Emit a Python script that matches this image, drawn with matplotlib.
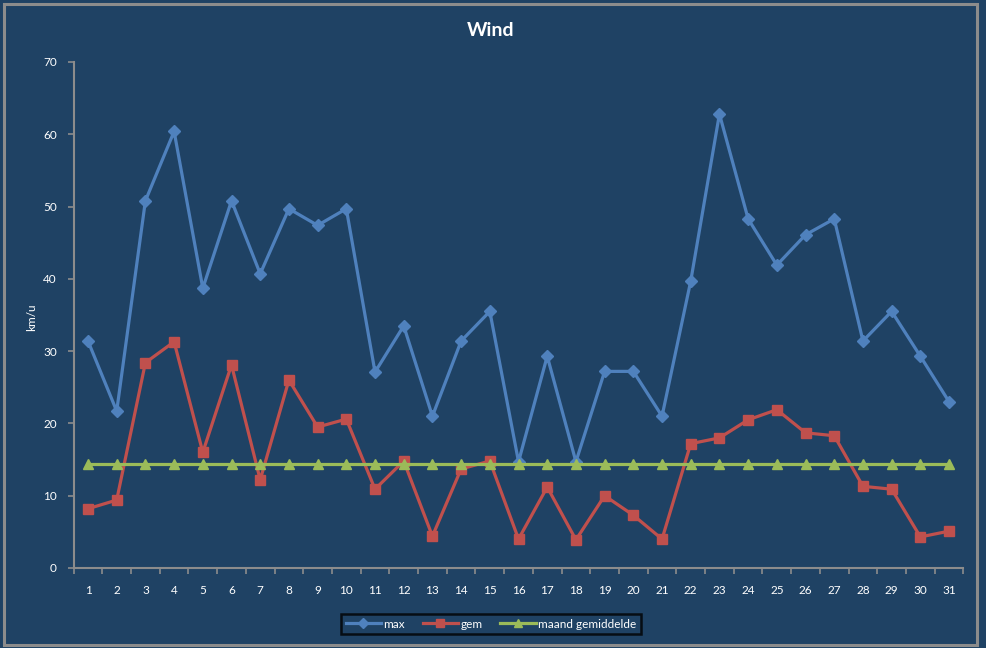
import matplotlib
matplotlib.use("Agg")
import matplotlib.pyplot as plt
from matplotlib.patches import Rectangle
import numpy as np

days = list(range(1, 32))
max_wind = [31.4, 21.7, 50.8, 60.4, 38.7, 50.8, 40.7, 49.7, 47.4, 49.7,
            27.1, 33.5, 21.0, 31.4, 35.5, 14.7, 29.3, 14.7, 27.2, 27.2,
            21.0, 39.7, 62.8, 48.3, 41.9, 46.1, 48.3, 31.4, 35.5, 29.3, 23.0]
gem_wind = [8.2, 9.4, 28.4, 31.3, 16.0, 28.1, 12.2, 26.0, 19.5, 20.6,
            10.9, 14.8, 4.4, 13.7, 14.8, 4.0, 11.2, 3.9, 10.0, 7.3,
            4.0, 17.2, 18.0, 20.5, 21.9, 18.7, 18.3, 11.3, 10.9, 4.3, 5.1]
maand_gem = [14.4] * 31

plt.rcParams['font.family'] = ['Lato', 'DejaVu Sans']
bg = '#1F4264'
fig = plt.figure(figsize=(9.87, 6.48), dpi=100, facecolor=bg)
fig.patches.append(Rectangle((4/987, 3/648), 973/987, 641/648, transform=fig.transFigure,
                             fill=False, edgecolor='#8C8C8C', linewidth=2.2))
ax = fig.add_axes([73.65/987, 1-568/648, (963.4-73.65)/987, (568-62)/648])
ax.set_facecolor(bg)

ax.plot(days, max_wind, color='#4F81BD', lw=2.3, marker='D', ms=6, label='max', zorder=3)
ax.plot(days, gem_wind, color='#C0504D', lw=2.3, marker='s', ms=7, label='gem', zorder=3)
ax.plot(days, maand_gem, color='#9BBB59', lw=2.3, marker='^', ms=7, label='maand gemiddelde', zorder=3)

ax.set_xlim(0.5, 31.5)
ax.set_ylim(0, 70)
ax.set_yticks(range(0, 71, 10))
ax.set_xticks(days)
ax.set_xticks(np.arange(0.5, 31.6, 1), minor=True)
ax.tick_params(axis='x', which='major', length=0, pad=12, labelsize=8.5, labelcolor='white')
ax.tick_params(axis='x', which='minor', length=4, width=1.2, color='#8C8C8C', direction='out')
ax.tick_params(axis='y', length=4, width=1.2, color='#8C8C8C', labelsize=8.5, labelcolor='white', pad=8)
for s in ['top', 'right']:
    ax.spines[s].set_visible(False)
for s in ['left', 'bottom']:
    ax.spines[s].set_color('#8C8C8C')
    ax.spines[s].set_linewidth(1.5)

ax.set_ylabel('km/u', color='white', fontsize=8.5)
ax.yaxis.set_label_coords((37 - 73.65) / 889.75, (568 - 317) / 506)
fig.text(491/987, 1-31/648, 'Wind', color='white', fontsize=14, fontweight='bold',
         ha='center', va='center')

leg = fig.legend(loc='center', bbox_to_anchor=(491/987, 1-624/648), ncol=3, frameon=True,
                 fontsize=8.5, facecolor=bg, edgecolor='black', labelcolor='white',
                 handlelength=3, columnspacing=1.5, handletextpad=0.2, borderpad=0.35,
                 fancybox=False, markerscale=0.9)
leg.get_frame().set_linewidth(1.8)

fig.savefig('out.png', dpi=100, facecolor=bg)
